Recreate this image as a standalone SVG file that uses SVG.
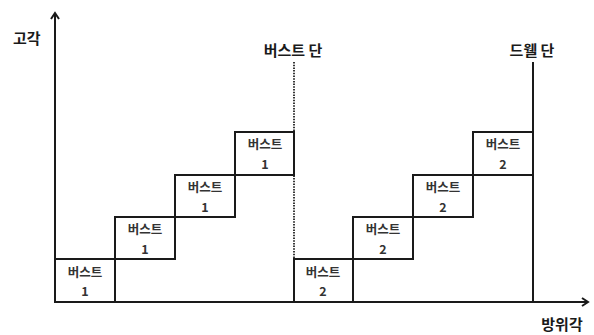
<svg xmlns="http://www.w3.org/2000/svg" width="594" height="335" viewBox="0 0 594 335">
<style>
.ln{stroke:#1a1a1a;stroke-width:2;fill:none}
.dot{stroke:#222;stroke-width:1.8;stroke-dasharray:1.5 1.2;fill:none}
.box{stroke:#1a1a1a;stroke-width:2;fill:none}
.lbl{font-family:"Noto Sans CJK KR","Noto Sans",sans-serif;font-weight:bold;font-size:15px;fill:#1a1a1a}
.bt{font-family:"Noto Sans CJK KR","Noto Sans",sans-serif;font-weight:bold;font-size:12.5px;fill:#333;text-anchor:middle}
</style>
<defs>
<marker id="ah" markerWidth="10" markerHeight="10" refX="8" refY="5" orient="auto" markerUnits="userSpaceOnUse">
<polyline points="2,1 8,5 2,9" fill="none" stroke="#1a1a1a" stroke-width="2"/>
</marker>
</defs>
<g id="connectors">
<line class="ln" x1="55" y1="302" x2="55" y2="13" marker-end="url(#ah)"/>
<line class="ln" x1="55" y1="302" x2="588" y2="302" marker-end="url(#ah)"/>
<line class="dot" x1="294" y1="62" x2="294" y2="259"/>
<line class="ln" x1="533" y1="62" x2="533" y2="302"/>
</g>
<g id="label-elev"><text class="lbl" x="13" y="44">고각</text></g>
<g id="label-burst-end"><text class="lbl" x="293" y="56" text-anchor="middle">버스트 단</text></g>
<g id="label-dwell-end"><text class="lbl" x="532" y="56" text-anchor="middle">드웰 단</text></g>
<g id="label-azimuth"><text class="lbl" x="562" y="330" text-anchor="middle">방위각</text></g>
<g id="b1-1"><rect class="box" x="55" y="259" width="60" height="43"/><text class="bt" x="85" y="277">버스트</text><text class="bt" x="85" y="296">1</text></g>
<g id="b1-2"><rect class="box" x="115" y="217" width="60" height="42"/><text class="bt" x="145" y="234">버스트</text><text class="bt" x="145" y="254">1</text></g>
<g id="b1-3"><rect class="box" x="175" y="175" width="60" height="42"/><text class="bt" x="205" y="192">버스트</text><text class="bt" x="205" y="212">1</text></g>
<g id="b1-4"><rect class="box" x="235" y="132" width="59" height="43"/><text class="bt" x="265" y="149">버스트</text><text class="bt" x="265" y="169">1</text></g>
<g id="b2-1"><rect class="box" x="294" y="259" width="59" height="43"/><text class="bt" x="323" y="277">버스트</text><text class="bt" x="323" y="296">2</text></g>
<g id="b2-2"><rect class="box" x="353" y="217" width="60" height="42"/><text class="bt" x="383" y="234">버스트</text><text class="bt" x="383" y="254">2</text></g>
<g id="b2-3"><rect class="box" x="413" y="175" width="60" height="42"/><text class="bt" x="443" y="192">버스트</text><text class="bt" x="443" y="212">2</text></g>
<g id="b2-4"><rect class="box" x="473" y="132" width="60" height="43"/><text class="bt" x="503" y="149">버스트</text><text class="bt" x="503" y="169">2</text></g>
</svg>
